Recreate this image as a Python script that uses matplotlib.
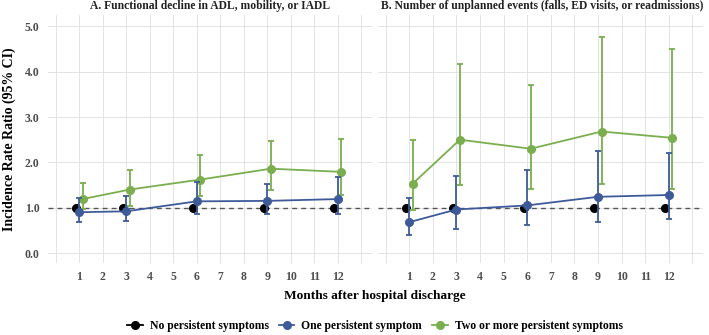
import matplotlib
matplotlib.use("Agg")
import matplotlib.pyplot as plt
from matplotlib.lines import Line2D
import numpy as np

plt.rcParams['font.family'] = ['Liberation Serif', 'DejaVu Serif']

months = [1, 3, 6, 9, 12]
groups = ["No persistent symptoms", "One persistent symptom", "Two or more persistent symptoms"]
colors = ["#000000", "#3E5B99", "#7AAE4F"]
offsets = [-0.15, 0.0, 0.15]

# Panel A: Functional decline
a_none = [1.0, 1.0, 1.0, 1.0, 1.0]
a_one = [0.90, 0.92, 1.14, 1.15, 1.19]
a_one_lo = [0.68, 0.70, 0.86, 0.86, 0.86]
a_one_hi = [1.21, 1.25, 1.56, 1.53, 1.68]
a_two = [1.19, 1.40, 1.62, 1.86, 1.79]
a_two_lo = [0.97, 1.03, 1.25, 1.38, 1.27]
a_two_hi = [1.55, 1.84, 2.16, 2.47, 2.51]

# Panel B: Unplanned events
b_none = [1.0, 1.0, 1.0, 1.0, 1.0]
b_one = [0.68, 0.96, 1.05, 1.24, 1.28]
b_one_lo = [0.39, 0.54, 0.61, 0.69, 0.75]
b_one_hi = [1.21, 1.70, 1.83, 2.24, 2.20]
b_two = [1.53, 2.50, 2.30, 2.68, 2.54]
b_two_lo = [0.94, 1.50, 1.42, 1.52, 1.42]
b_two_hi = [2.50, 4.16, 3.71, 4.77, 4.51]

titles = ["A. Functional decline in ADL, mobility, or IADL",
          "B. Number of unplanned events (falls, ED visits, or readmissions)"]
yticks = [0.0, 1.0, 2.0, 3.0, 4.0, 5.0]

fig = plt.figure(figsize=(7.09, 3.35), dpi=100)
axA = fig.add_axes([48/709, 1-263/335, 324/709, 248/335])
axB = fig.add_axes([378/709, 1-263/335, 325/709, 248/335])

panels = [
    (axA, a_none, (a_one, a_one_lo, a_one_hi), (a_two, a_two_lo, a_two_hi)),
    (axB, b_none, (b_one, b_one_lo, b_one_hi), (b_two, b_two_lo, b_two_hi)),
]

tick_col = "#4D4D4D"
for i, (ax, none, one, two) in enumerate(panels):
    ax.set_xlim(-0.32, 13.45)
    ax.set_ylim(-0.22, 5.25)
    for s in ax.spines.values():
        s.set_visible(False)
    ax.set_xticks(range(0, 14))
    ax.set_xticklabels(["" if (t == 0 or t == 13) else str(t) for t in range(0, 14)])
    ax.set_yticks(yticks)
    if i == 0:
        ax.set_yticklabels([f"{v:.1f}" for v in yticks])
    else:
        ax.set_yticklabels([])
    ax.grid(True, color="#E3E3E3", linewidth=0.7)
    ax.set_axisbelow(True)
    ax.tick_params(length=0, labelsize=8.5, colors=tick_col, pad=6)
    for lab in ax.get_xticklabels() + ax.get_yticklabels():
        lab.set_fontweight("bold")
    ax.axhline(1.0, color="#555555", linestyle=(0, (3.5, 3)), linewidth=1.0, zorder=2)
    xs = [m + offsets[0] for m in months]
    ax.plot(xs, none, "o", color=colors[0], markersize=5.5, zorder=3)
    for k, (vals, lo, hi) in [(2, two), (1, one)]:
        xk = [m + offsets[k] for m in months]
        v = np.array(vals)
        yerr = [v - np.array(lo), np.array(hi) - v]
        ax.errorbar(xk, vals, yerr=yerr, fmt="o-", color=colors[k], markersize=5.5,
                    linewidth=1.3, elinewidth=1.3, capsize=2.2, capthick=1.3, zorder=4 + (k == 1))

axA.set_title(titles[0], fontsize=8.4, fontweight="bold", color="#222222", pad=4)
axB.set_title(titles[1], fontsize=8.4, fontweight="bold", color="#222222", pad=4, x=0.505)

axA.set_ylabel("Incidence Rate Ratio (95% CI)", fontsize=10, fontweight="bold", labelpad=6)
fig.text(375/709, 1 - 296/335, "Months after hospital discharge", ha="center", va="center",
         fontsize=9.6, fontweight="bold")

handles = [Line2D([0], [0], color=c, marker="o", markersize=5.5, linewidth=1.3) for c in colors]
fig.legend(handles, groups, loc="center", bbox_to_anchor=(375/709, 1 - 326/335), ncol=3,
           frameon=False, prop={"weight": "bold", "size": 8.4}, handlelength=1.3,
           columnspacing=0.9, handletextpad=0.6)

fig.savefig("out.png", dpi=100)
